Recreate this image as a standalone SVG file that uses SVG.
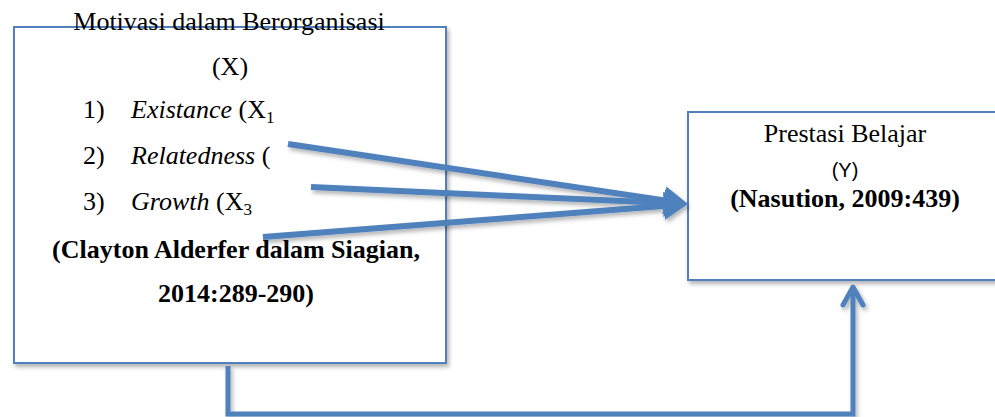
<svg xmlns="http://www.w3.org/2000/svg" width="995" height="417" viewBox="0 0 995 417">
<style>
.box{fill:#ffffff;stroke:#4f81bd;stroke-width:2}
.t{font-family:'Liberation Serif','Times New Roman','DejaVu Serif',serif;font-size:26px;fill:#000}
.b{font-weight:bold}
.i{font-style:italic}
.s{font-family:'Liberation Sans',Arial,sans-serif;font-size:20px;fill:#000}
.arr{stroke:#4f81bd;stroke-width:6;fill:none;marker-end:url(#head)}
.conn{stroke:#4f81bd;stroke-width:5;fill:none;marker-end:url(#open)}
</style>
<defs>
<filter id="sh" x="-10%" y="-10%" width="130%" height="130%">
<feDropShadow dx="2" dy="3" stdDeviation="2" flood-color="#000" flood-opacity="0.3"/>
</filter>
<marker id="head" markerUnits="userSpaceOnUse" markerWidth="26" markerHeight="32" viewBox="0 0 26 32" refX="9" refY="15" orient="auto">
<path d="M0,1 L24,15 L0,29 z" fill="#4f81bd"/>
</marker>
<marker id="open" markerUnits="userSpaceOnUse" markerWidth="32" markerHeight="32" viewBox="0 0 32 32" refX="25" refY="15" orient="auto">
<path d="M7,5 L25,15 L7,25" fill="none" stroke="#4f81bd" stroke-width="5" stroke-linecap="round" stroke-linejoin="round"/>
</marker>
</defs>
<rect width="995" height="417" fill="#ffffff"/>
<g id="node-x">
<rect class="box" x="14" y="27" width="432" height="336" filter="url(#sh)"/>
<text class="t" font-family="Liberation Serif, serif" x="229" y="30" text-anchor="middle">Motivasi dalam Berorganisasi</text>
<text class="t" x="230" y="75" text-anchor="middle">(X)</text>
<text class="t" x="83" y="118">1)<tspan class="i" x="131">Existance</tspan> (X<tspan font-size="17" dy="5">1</tspan></text>
<text class="t" x="83" y="164">2)<tspan class="i" x="131">Relatedness</tspan> (</text>
<text class="t" x="83" y="210">3)<tspan class="i" x="131">Growth</tspan> (X<tspan font-size="17" dy="5">3</tspan></text>
<text class="t b" x="236" y="258" text-anchor="middle">(Clayton Alderfer dalam Siagian,</text>
<text class="t b" x="236" y="302" text-anchor="middle">2014:289-290)</text>
</g>
<g id="node-y">
<rect class="box" x="688" y="112" width="320" height="168" filter="url(#sh)"/>
<text class="t" x="845" y="142" text-anchor="middle">Prestasi Belajar</text>
<text class="s" x="845" y="177" text-anchor="middle">(Y)</text>
<text class="t b" x="845" y="207" text-anchor="middle">(Nasution, 2009:439)</text>
</g>
<g id="connectors" filter="url(#sh)">
<line class="arr" x1="288" y1="144" x2="673.2" y2="201.8"/>
<line class="arr" x1="311" y1="187" x2="673" y2="203.3"/>
<line class="arr" x1="263" y1="237" x2="673" y2="205.2"/>
<polyline class="conn" points="228,366 228,414 853,414 853,287"/>
</g>
</svg>
